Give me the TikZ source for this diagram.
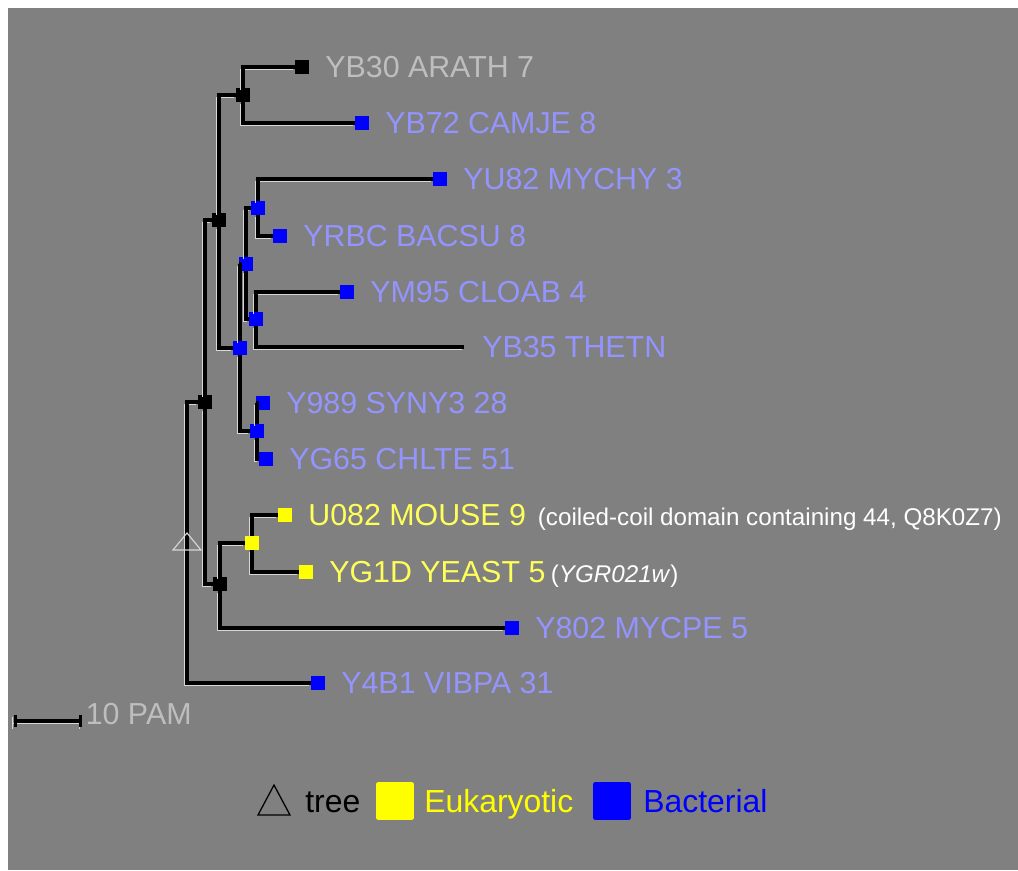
\documentclass[tikz,border=0pt]{standalone}
\usepackage{fontspec}
\setmainfont{Liberation Sans}
\usetikzlibrary{arrows.meta, positioning}

\definecolor{bgray}{RGB}{128,128,128}
\definecolor{bact}{RGB}{0,0,255}
\definecolor{euk}{RGB}{255,255,0}
\definecolor{bactlab}{RGB}{148,148,255}
\definecolor{euklab}{RGB}{255,255,90}
\definecolor{plantlab}{RGB}{190,190,190}
\definecolor{shine}{RGB}{215,215,215}

\begin{document}
\begin{tikzpicture}[x=0.025cm, y=-0.025cm,
    junc/.style={rectangle, fill=#1, minimum size=9.4pt, inner sep=0pt},
    lab/.style={text=#1, inner sep=0pt, font=\fontsize{21.6}{26}\selectfont},
    note/.style={text=white, inner sep=0pt, anchor=base west, font=\fontsize{17.2}{20}\selectfont},
    legtext/.style={text=#1, inner sep=0pt, anchor=base west, font=\fontsize{22.7}{27}\selectfont},
    legbox/.style={rectangle, rounded corners=1.5pt, fill=#1, minimum size=26.9pt, inner sep=0pt},
    branch/.style={line width=2.3pt, black, preaction={draw=shine, line width=0.7pt, transform canvas={shift={(-1.45pt,-1.45pt)}}}},
    node distance=11.5pt]
        \useasboundingbox (0,0) rectangle (1018,870);
        \fill[white] (0,0) rectangle (1018,870);
        \fill[bgray] (8,8) rectangle (1018,870);

        % internal nodes
        \coordinate (root) at (187,542);
        \node[junc=black] (n1) at (205,402) {};
        \node[junc=black] (n2) at (219,220) {};
        \node[junc=black] (n3) at (243,95) {};
        \node[junc=bact] (n4) at (240,348) {};
        \node[junc=bact] (n5) at (246,264) {};
        \node[junc=bact] (n6) at (258,208) {};
        \node[junc=bact] (n7) at (256,319) {};
        \node[junc=bact] (n8) at (257,431) {};
        \node[junc=black] (n9) at (220,584) {};
        \node[junc=euk] (n10) at (252,543) {};

        % leaves
        \node[junc=black] (yb30) at (302,67) {};
        \node[junc=bact] (yb72) at (362,123) {};
        \node[junc=bact] (yu82) at (440,179) {};
        \node[junc=bact] (yrbc) at (280,236) {};
        \node[junc=bact] (ym95) at (347,292) {};
        \coordinate (yb35) at (464,347);
        \node[junc=bact] (y989) at (263,403) {};
        \node[junc=bact] (yg65) at (266,459) {};
        \node[junc=euk] (u082) at (285,515) {};
        \node[junc=euk] (yg1d) at (306,572) {};
        \node[junc=bact] (y802) at (512,628) {};
        \node[junc=bact] (y4b1) at (318,683) {};

        \node[lab=plantlab, right=of yb30] (yb30lab) {YB30 ARATH 7};
        \node[lab=bactlab, right=of yb72] (yb72lab) {YB72 CAMJE 8};
        \node[lab=bactlab, right=of yu82] (yu82lab) {YU82 MYCHY 3};
        \node[lab=bactlab, right=of yrbc] (yrbclab) {YRBC BACSU 8};
        \node[lab=bactlab, right=of ym95] (ym95lab) {YM95 CLOAB 4};
        \node[lab=bactlab, right=12.8pt of yb35] (yb35lab) {YB35 THETN};
        \node[lab=bactlab, right=of y989] (y989lab) {Y989 SYNY3 28};
        \node[lab=bactlab, right=of yg65] (yg65lab) {YG65 CHLTE 51};
        \node[lab=euklab, right=of u082] (u082lab) {U082 MOUSE 9};
        \node[lab=euklab, right=of yg1d] (yg1dlab) {YG1D YEAST 5};
        \node[lab=bactlab, right=of y802] (y802lab) {Y802 MYCPE 5};
        \node[lab=bactlab, right=of y4b1] (y4b1lab) {Y4B1 VIBPA 31};

        \node[note] (u082note) at ([xshift=8pt]u082lab.base east) {(coiled-coil domain containing 44, Q8K0Z7)};
        \node[note] (yg1dnote) at ([xshift=3.5pt]yg1dlab.base east) {(\textit{YGR021w})};

        % branches
        \draw[branch] (root) |- (n1);
        \draw[branch] (root) |- (y4b1);
        \draw[branch] (n1) |- (n2);
        \draw[branch] (n1) |- (n9);
        \draw[branch] (n2) |- (n3);
        \draw[branch] (n2) |- (n4);
        \draw[branch] (n3) |- (yb30);
        \draw[branch] (n3) |- (yb72);
        \draw[branch] (n4) |- (n5);
        \draw[branch] (n4) |- (n8);
        \draw[branch] (n5) |- (n6);
        \draw[branch] (n5) |- (n7);
        \draw[branch] (n6) |- (yu82);
        \draw[branch] (n6) |- (yrbc);
        \draw[branch] (n7) |- (ym95);
        \draw[branch] (n7) |- (yb35);
        \draw[branch] (n8) |- (y989);
        \draw[branch] (n8) |- (yg65);
        \draw[branch] (n9) |- (n10);
        \draw[branch] (n9) |- (y802);
        \draw[branch] (n10) |- (u082);
        \draw[branch] (n10) |- (yg1d);

        % tree marker
        \draw[shine, line width=0.8pt] (root) ++(-14,8) -- ++(14,-17) -- ++(14,17) -- cycle;

        % scale bar
        \coordinate (pamL) at (14,721);
        \coordinate (pamR) at (82,721);
        \draw[branch, {Bar[width=8pt]}-{Bar[width=8pt]}] (pamL) -- (pamR);
        \node[lab=plantlab, anchor=base west] (pamlab) at ([xshift=2.5pt, yshift=-2.5pt]pamR) {10 PAM};

        % legend
        \draw[black, line width=0.9pt] (258,815) -- (274,785) -- (290,815) -- cycle;
        \node[legtext=black] (legtree) at (305,812) {tree};
        \node[legbox=euk] (legeukbox) at (395,801) {};
        \node[legtext=euk] (legeuk) at (424,812) {Eukaryotic};
        \node[legbox=bact] (legbactbox) at (612,801) {};
        \node[legtext=bact] (legbact) at (643,812) {Bacterial};
    \end{tikzpicture}
\end{document}
